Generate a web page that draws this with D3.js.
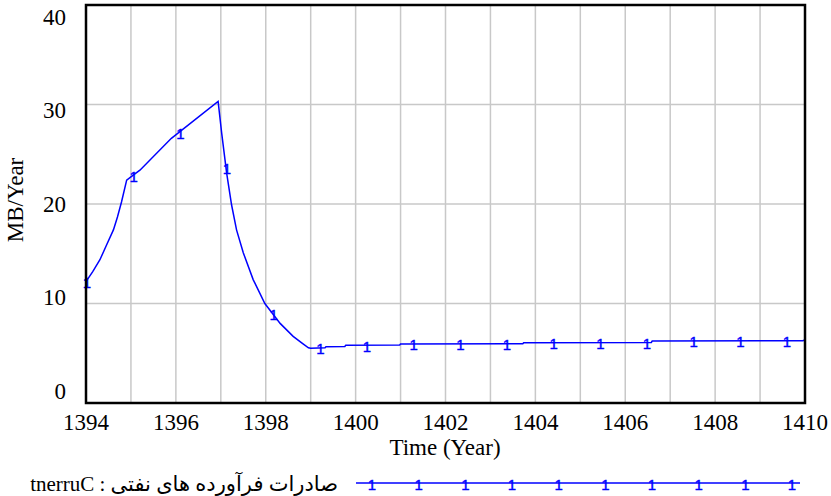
<!DOCTYPE html>
<html>
<head>
<meta charset="utf-8">
<script src="https://cdn.jsdelivr.net/npm/d3@7/dist/d3.min.js"></script>
<style>
  html, body { margin: 0; padding: 0; background: #fff; }
  svg { display: block; }
</style>
</head>
<body>
<svg id="chart" width="831" height="496"></svg>
<script>
// ---- data ----
const years = [1394, 1394.15, 1394.31, 1394.45, 1394.61, 1394.7, 1394.79, 1394.905, 1395.05, 1395.2, 1395.9, 1396.94,
  1397.02, 1397.13, 1397.24, 1397.35, 1397.5, 1397.72, 1397.98, 1398.15, 1398.32, 1398.61, 1398.8, 1398.95, 1399.0,
  1399.32, 1399.34, 1399.76, 1399.78, 1400.98, 1401.0, 1403.72, 1403.74, 1406.58, 1406.6, 1409.95, 1410];
const values = [12.2, 13.2, 14.4, 15.8, 17.4, 18.7, 20.2, 22.4, 22.9, 23.4, 26.6, 30.3,
  27.1, 23.1, 19.9, 17.4, 15.1, 12.4, 10.0, 9.0, 8.0, 6.7, 6.05, 5.55, 5.5,
  5.55, 5.65, 5.68, 5.8, 5.82, 5.93, 5.95, 6.06, 6.08, 6.23, 6.25, 6.33];
const xTickLabels = [1394, 1396, 1398, 1400, 1402, 1404, 1406, 1408, 1410];
const yTickLabels = [0, 10, 20, 30, 40];
const xGridYears = [1395,1396,1397,1398,1399,1400,1401,1402,1403,1404,1405,1406,1407,1408,1409];
const yGridValues = [10, 20, 30];
const markerInterval = 1.0385; // years between "1" markers
const seriesName = "tnerruC : صادرات فرآورده های نفتی";
const yAxisTitle = "MB/Year";
const xAxisTitle = "Time (Year)";

// ---- layout ----
const svg = d3.select("#chart");
const pLeft = 86, pRight = 805, pTop = 5, pBottom = 403;
const x = d3.scaleLinear().domain([1394, 1410]).range([pLeft, pRight]);
const y = d3.scaleLinear().domain([0, 40]).range([pBottom, pTop]);
const yLabelPos = d3.scaleLinear().domain([0, 40]).range([391, 17]);
const serif = "'Liberation Serif', 'Times New Roman', serif";
const blue = "#0000ff";

// grid
svg.append("g").selectAll("line").data(xGridYears).join("line")
  .attr("x1", d => x(d)).attr("x2", d => x(d))
  .attr("y1", pTop).attr("y2", pBottom)
  .attr("stroke", "#c8c8c8").attr("stroke-width", 1.5);
svg.append("g").selectAll("line").data(yGridValues).join("line")
  .attr("x1", pLeft).attr("x2", pRight)
  .attr("y1", d => y(d)).attr("y2", d => y(d))
  .attr("stroke", "#c8c8c8").attr("stroke-width", 1.5);

// series line
const pts = years.map((t, i) => [t, values[i]]);
const line = d3.line().x(d => x(d[0])).y(d => y(d[1]));
svg.append("path").datum(pts)
  .attr("d", line).attr("fill", "none")
  .attr("stroke", blue).attr("stroke-width", 1.5);

// markers "1" along line
const interp = t => {
  for (let i = 1; i < years.length; i++) {
    if (t <= years[i]) {
      const f = (t - years[i-1]) / (years[i] - years[i-1]);
      return values[i-1] + f * (values[i] - values[i-1]);
    }
  }
  return values[values.length - 1];
};
const markerYears = d3.range(1394, 1410, markerInterval);
svg.append("g").selectAll("text").data(markerYears).join("text")
  .attr("x", d => x(d) + 1).attr("y", d => y(interp(d)) + 1)
  .attr("text-anchor", "middle").attr("dominant-baseline", "central")
  .attr("font-family", "'Liberation Sans', Arial, sans-serif")
  .attr("font-size", 15).attr("fill", blue)
  .attr("stroke", blue).attr("stroke-width", 0.4)
  .text("1");

// frame
svg.append("rect")
  .attr("x", pLeft).attr("y", pTop)
  .attr("width", pRight - pLeft).attr("height", pBottom - pTop)
  .attr("fill", "none").attr("stroke", "#000").attr("stroke-width", 2.5);

// y tick labels
svg.append("g").selectAll("text").data(yTickLabels).join("text")
  .attr("x", 66).attr("y", d => yLabelPos(d))
  .attr("text-anchor", "end").attr("dominant-baseline", "central")
  .attr("font-family", serif).attr("font-size", 23).attr("fill", "#000")
  .text(d => d);

// x tick labels
svg.append("g").selectAll("text").data(xTickLabels).join("text")
  .attr("x", d => x(d)).attr("y", 430)
  .attr("text-anchor", "middle")
  .attr("font-family", serif).attr("font-size", 23).attr("fill", "#000")
  .text(d => d);

// axis titles
svg.append("text")
  .attr("x", 445).attr("y", 455)
  .attr("text-anchor", "middle")
  .attr("font-family", serif).attr("font-size", 23).attr("fill", "#000")
  .text(xAxisTitle);
svg.append("text")
  .attr("transform", "translate(23,200) rotate(-90)")
  .attr("text-anchor", "middle")
  .attr("font-family", serif).attr("font-size", 23).attr("fill", "#000")
  .text(yAxisTitle);

// legend
svg.append("text")
  .attr("x", 338).attr("y", 491)
  .attr("text-anchor", "end").attr("direction", "ltr")
  .attr("font-family", "'Liberation Serif', 'DejaVu Sans', serif")
  .attr("font-size", 21).attr("fill", "#000")
  .text(seriesName);
svg.append("line")
  .attr("x1", 356).attr("x2", 800).attr("y1", 483).attr("y2", 483)
  .attr("stroke", blue).attr("stroke-width", 1.5);
const legendMarks = d3.range(0, 10);
svg.append("g").selectAll("text").data(legendMarks).join("text")
  .attr("x", d => 372 + d * 46.67).attr("y", 484)
  .attr("text-anchor", "middle").attr("dominant-baseline", "central")
  .attr("font-family", "'Liberation Sans', Arial, sans-serif")
  .attr("font-size", 15).attr("fill", blue)
  .attr("stroke", blue).attr("stroke-width", 0.4)
  .text("1");
</script>
</body>
</html>
